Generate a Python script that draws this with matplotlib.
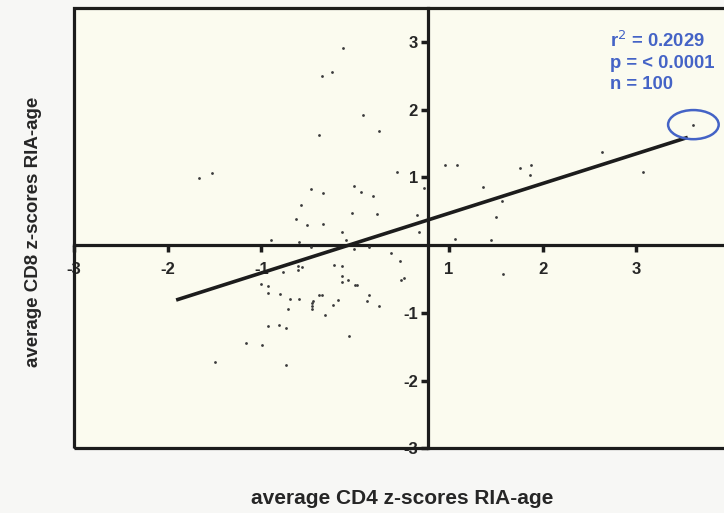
import matplotlib.pyplot as plt
from matplotlib.patches import Ellipse, Rectangle

plt.rcParams['font.family'] = ['Liberation Sans', 'DejaVu Sans']

# average z-scores per subject (CD4 vs CD8)
cd4 = [-0.13, -0.35, -0.25, 0.08, 0.26, -0.39, -1.67, -1.53, 0.45, -0.47,
       -0.34, -0.01, 0.06, 0.19, -0.58, -0.03, 0.23, 0.66, -0.63, -0.51,
       -0.34, -0.14, 0.68, -0.10, -0.90, -0.60, 0.73, 0.96, 1.09, 1.36,
       1.76, 1.88, 1.87, 2.63, 3.07, 1.57, 1.50, 1.07, 1.45, 1.58,
       3.61, -0.47, -0.01, 0.15, 0.38, 0.48, -0.72, -0.77, -0.61, -0.57,
       -0.61, -0.23, -0.14, -0.14, -0.08, -0.14, 0.00, 0.02, -1.00, -0.93,
       -0.93, -0.80, -0.39, -0.35, -0.70, -0.60, -0.45, -0.46, -0.46, -0.46,
       -0.24, -0.18, -0.72, -0.32, 0.49, 0.52, 0.15, 0.13, 0.25, -0.93,
       -0.81, -0.74, -0.06, -1.16, -0.99, -1.49, -0.74]
cd8 = [2.91, 2.50, 2.55, 1.92, 1.69, 1.63, 0.99, 1.06, 1.08, 0.83,
       0.77, 0.87, 0.78, 0.73, 0.59, 0.48, 0.46, 0.44, 0.39, 0.30,
       0.31, 0.20, 0.19, 0.08, 0.07, 0.05, 0.84, 1.18, 1.18, 0.86,
       1.14, 1.19, 1.04, 1.37, 1.08, 0.65, 0.41, 0.09, 0.07, -0.43,
       1.78, -0.03, -0.06, -0.03, -0.11, -0.23, -0.28, -0.40, -0.31, -0.32,
       -0.36, -0.29, -0.31, -0.46, -0.52, -0.55, -0.59, -0.59, -0.57, -0.61,
       -0.71, -0.72, -0.74, -0.74, -0.80, -0.80, -0.82, -0.86, -0.90, -0.94,
       -0.88, -0.81, -0.95, -1.03, -0.52, -0.49, -0.74, -0.82, -0.90, -1.19,
       -1.18, -1.23, -1.34, -1.45, -1.48, -1.73, -1.77]

# linear fit
slope = 0.44
intercept = 0.03
fit_x = [-1.91, 3.55]

# circled subject
outlier = (3.61, 1.78)

stats_lines = ["r$^2$ = 0.2029", "p = < 0.0001", "n = 100"]
ticks = [-3, -2, -1, 1, 2, 3]

fig = plt.figure(figsize=(7.24, 5.13), dpi=100, facecolor='#f7f7f5')
ax = fig.add_axes([0.1022, 0.1261, 0.906, 0.858])
ax.set_facecolor('#fbfbef')
ax.set_xlim(-3, 4)
ax.set_ylim(-3, 3.5)

ink = '#1c1c1c'
blue = '#4463c6'

# axes cross inside the box
for side in ('top', 'right'):
    ax.spines[side].set_visible(False)
ax.spines['left'].set_position(('data', 0.775))
ax.spines['bottom'].set_position(('data', 0))
for side in ('left', 'bottom'):
    ax.spines[side].set_linewidth(2.3)
    ax.spines[side].set_color(ink)
    ax.spines[side].set_zorder(3)

ax.add_patch(Rectangle((0, 0), 1, 1, transform=ax.transAxes, fill=False,
                       lw=2.3, ec=ink, clip_on=False, zorder=4))

ax.set_xticks(ticks)
ax.set_yticks(ticks)
ax.set_xticklabels([str(t) for t in ticks])
ax.set_yticklabels([str(t) for t in ticks])
ax.tick_params(axis='both', direction='out', length=5, width=2.5, color=ink,
               labelsize=12, labelcolor='#262626')
ax.tick_params(axis='x', pad=7)
ax.tick_params(axis='y', pad=2)
for lab in ax.get_xticklabels() + ax.get_yticklabels():
    lab.set_fontweight('bold')

ax.scatter(cd4, cd8, s=4, color='#3a3a3a', linewidths=0, zorder=5)

fit_y = [slope * x + intercept for x in fit_x]
ax.plot(fit_x, fit_y, color=ink, lw=2.6, solid_capstyle='butt', zorder=6)

ax.add_patch(Ellipse(outlier, 0.54, 0.43, fill=False, ec=blue, lw=1.8, zorder=6))

ax.text(2.72, 3.17, "\n".join(stats_lines), color=blue, fontsize=13.3,
        fontweight='bold', va='top', ha='left', linespacing=1.32)

fig.text(402 / 724, 1 - 499 / 513, "average CD4 z-scores RIA-age",
         ha='center', va='center', fontsize=15, fontweight='bold', color='#262626')
fig.text(34 / 724, 1 - 232 / 513, "average CD8 z-scores RIA-age",
         ha='center', va='center', rotation=90, fontsize=13.5,
         fontweight='bold', color='#262626')

fig.savefig("out.png", dpi=100, facecolor=fig.get_facecolor())
